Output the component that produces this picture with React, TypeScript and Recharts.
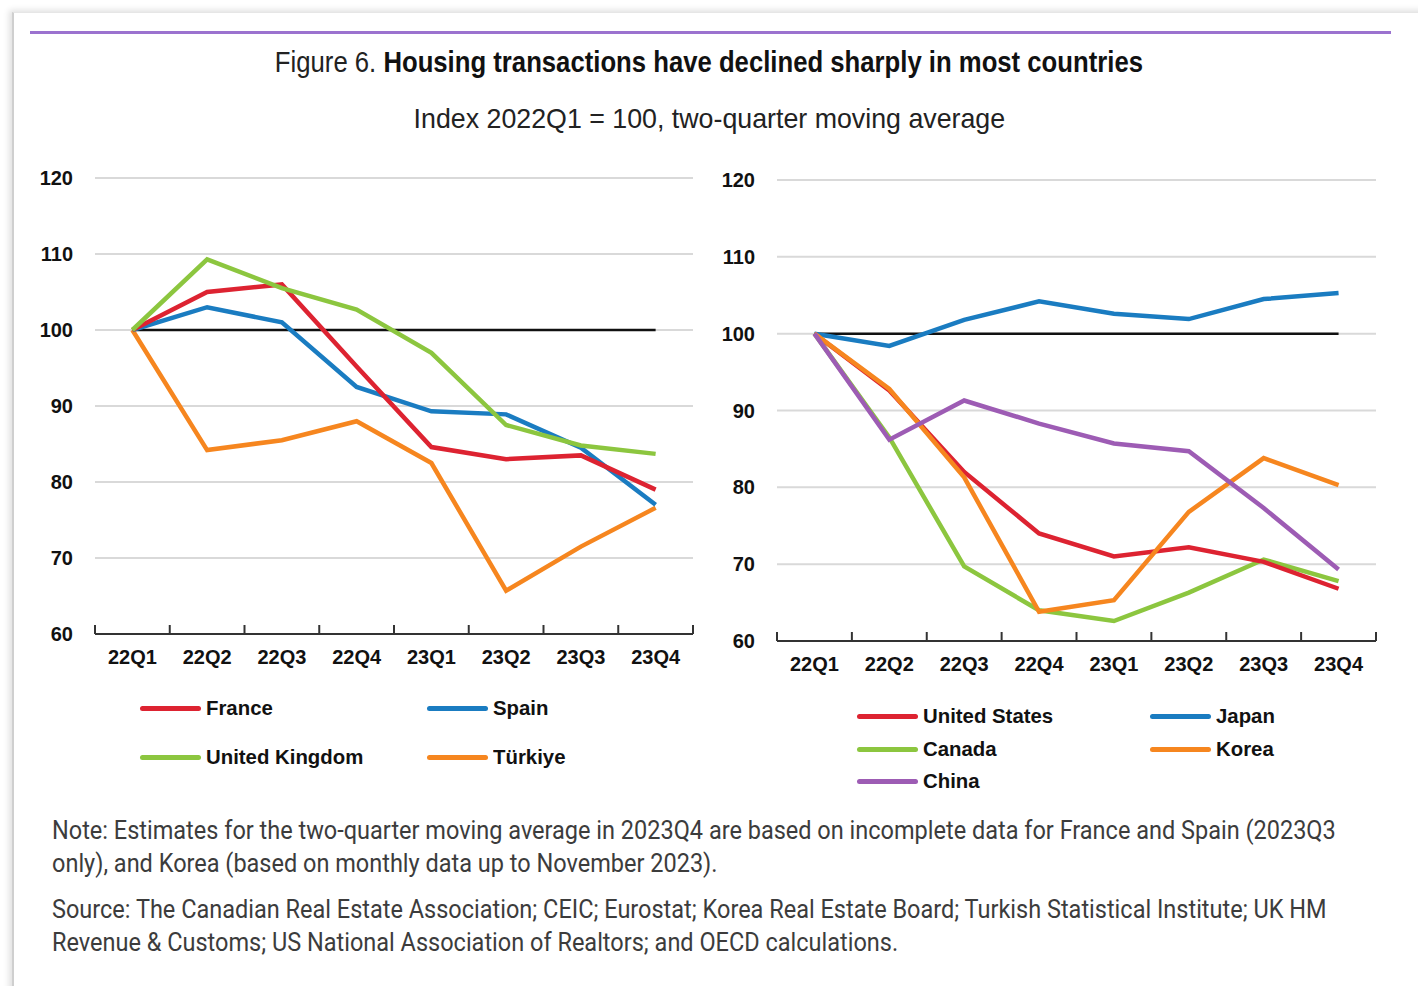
import React from 'react';
import { LineChart, Line, XAxis, YAxis, CartesianGrid } from 'recharts';

const QUARTERS = ['22Q1', '22Q2', '22Q3', '22Q4', '23Q1', '23Q2', '23Q3', '23Q4'];
const Y_TICKS = [60, 70, 80, 90, 100, 110, 120];
const BASELINE = [100, 100, 100, 100, 100, 100, 100, 100];

// Left panel
const FRANCE = [100, 105, 106, 95.2, 84.6, 83, 83.5, 79];
const SPAIN = [100, 103, 101, 92.5, 89.3, 88.9, 84.5, 77];
const UNITED_KINGDOM = [100, 109.3, 105.5, 102.7, 97, 87.5, 84.8, 83.7];
const TURKIYE = [100, 84.2, 85.5, 88, 82.5, 65.7, 71.5, 76.6];

// Right panel
const UNITED_STATES = [100, 92.6, 82, 74, 71, 72.2, 70.3, 66.8];
const JAPAN = [100, 98.4, 101.8, 104.2, 102.6, 101.9, 104.5, 105.3];
const CANADA = [100, 86.5, 69.7, 64, 62.6, 66.3, 70.6, 67.8];
const KOREA = [100, 92.8, 81.3, 63.8, 65.3, 76.8, 83.8, 80.3];
const CHINA = [100, 86.2, 91.3, 88.3, 85.7, 84.7, 77.3, 69.3];

const C_RED = '#dd2331';
const C_BLUE = '#1a7cc1';
const C_GREEN = '#8cc63f';
const C_ORANGE = '#f6861f';
const C_PURPLE = '#9d5cb4';

const leftData = QUARTERS.map((q, i) => ({
  q,
  base: BASELINE[i],
  France: FRANCE[i],
  Spain: SPAIN[i],
  'United Kingdom': UNITED_KINGDOM[i],
  'Türkiye': TURKIYE[i],
}));

const rightData = QUARTERS.map((q, i) => ({
  q,
  base: BASELINE[i],
  'United States': UNITED_STATES[i],
  Japan: JAPAN[i],
  Canada: CANADA[i],
  Korea: KOREA[i],
  China: CHINA[i],
}));

const leftSeries = [
  { key: 'Türkiye', color: C_ORANGE },
  { key: 'Spain', color: C_BLUE },
  { key: 'France', color: C_RED },
  { key: 'United Kingdom', color: C_GREEN },
];
const rightSeries = [
  { key: 'Japan', color: C_BLUE },
  { key: 'Canada', color: C_GREEN },
  { key: 'United States', color: C_RED },
  { key: 'Korea', color: C_ORANGE },
  { key: 'China', color: C_PURPLE },
];

const AXIS_FONT = "'Liberation Sans', Arial, sans-serif";
const tickStyle = { fontFamily: AXIS_FONT, fontWeight: 700, fontSize: 20, fill: '#111' };
const TICK_GAP = 16;
const TICK_MARK = 9;

function CatTick(props: any) {
  const { x, y, payload, index, visibleTicksCount, width } = props;
  const half =
    typeof payload?.offset === 'number' && payload.offset > 0
      ? payload.offset
      : width / visibleTicksCount / 2;
  const axisY = y - TICK_GAP;
  const isLast = index === visibleTicksCount - 1;
  return (
    <g>
      <line x1={x - half} x2={x - half} y1={axisY} y2={axisY - TICK_MARK} stroke="#333" strokeWidth={2} />
      {isLast && <line x1={x + half} x2={x + half} y1={axisY} y2={axisY - TICK_MARK} stroke="#333" strokeWidth={2} />}
      <text x={x} y={y} dy="0.71em" textAnchor="middle" {...tickStyle}>
        {payload.value}
      </text>
    </g>
  );
}

function Panel({ data, series, width, height, margin }: any) {
  return (
    <LineChart width={width} height={height} data={data} margin={margin}>
      <CartesianGrid vertical={false} stroke="#d9d9d9" strokeWidth={2} />
      <XAxis
        dataKey="q"
        type="category"
        scale="band"
        axisLine={{ stroke: '#333', strokeWidth: 2 }}
        tickLine={false}
        tickSize={0}
        tickMargin={TICK_GAP}
        height={40}
        interval={0}
        tick={CatTick}
      />
      <YAxis
        domain={[60, 120]}
        ticks={Y_TICKS}
        width={60}
        axisLine={false}
        tickLine={false}
        tickSize={12}
        tickMargin={10}
        tick={tickStyle}
        interval={0}
      />
      <Line dataKey="base" stroke="#111" strokeWidth={2.5} dot={false} isAnimationActive={false} />
      {series.map((s: any) => (
        <Line
          key={s.key}
          dataKey={s.key}
          stroke={s.color}
          strokeWidth={4.5}
          dot={false}
          strokeLinejoin="miter"
          isAnimationActive={false}
        />
      ))}
    </LineChart>
  );
}

function LegendItem({ x, y, color, label }: any) {
  return (
    <div style={{ position: 'absolute', left: x, top: y - 14, height: 28, display: 'flex', alignItems: 'center' }}>
      <div style={{ width: 61, height: 5, borderRadius: 3, background: color, marginRight: 5 }} />
      <span
        style={{
          fontFamily: AXIS_FONT,
          fontWeight: 700,
          fontSize: 21,
          color: '#111',
          whiteSpace: 'nowrap',
          display: 'inline-block',
          transform: 'scaleX(0.97)',
          transformOrigin: 'left center',
        }}
      >
        {label}
      </span>
    </div>
  );
}

const noteStyle: React.CSSProperties = {
  position: 'absolute',
  left: 52,
  fontFamily: "Roboto, 'Noto Sans', sans-serif",
  fontSize: 25,
  color: '#3c3c3c',
  whiteSpace: 'nowrap',
  lineHeight: '33px',
  transform: 'scaleX(0.94)',
  transformOrigin: 'left top',
};

const centered: React.CSSProperties = {
  position: 'absolute',
  left: 0,
  width: 1418,
  display: 'flex',
  justifyContent: 'center',
  whiteSpace: 'nowrap',
  fontFamily: AXIS_FONT,
  color: '#222',
};

export default function App() {
  return (
    <div style={{ position: 'absolute', left: 0, top: 0, width: 1418, height: 986, background: '#fff', overflow: 'hidden' }}>
      <div
        style={{
          position: 'absolute',
          left: 12,
          top: 12,
          width: 1440,
          height: 1000,
          borderLeft: '2px solid #cfcfcf',
          borderTop: '1px solid #e6e6e6',
          boxShadow: '-3px -2px 6px rgba(0,0,0,0.12)',
        }}
      />
      <div style={{ position: 'absolute', left: 30, top: 31, width: 1361, height: 3, background: '#9b72cf' }} />
      <div style={{ ...centered, top: 46 }}>
        <div style={{ fontSize: 29, transform: 'scaleX(0.886)', transformOrigin: 'center' }}>
          <span>Figure 6. </span>
          <span style={{ fontWeight: 700, color: '#111' }}>Housing transactions have declined sharply in most countries</span>
        </div>
      </div>
      <div style={{ ...centered, top: 103 }}>
        <div style={{ fontSize: 28, transform: 'scaleX(0.956)', transformOrigin: 'center' }}>
          Index 2022Q1 = 100, two-quarter moving average
        </div>
      </div>

      <div style={{ position: 'absolute', left: 0, top: 150 }}>
        <Panel data={leftData} series={leftSeries} width={720} height={540} margin={{ top: 28, right: 27, bottom: 16, left: 35 }} />
      </div>
      <div style={{ position: 'absolute', left: 700, top: 150 }}>
        <Panel data={rightData} series={rightSeries} width={720} height={550} margin={{ top: 30, right: 44, bottom: 19, left: 17 }} />
      </div>

      <LegendItem x={140} y={708} color={C_RED} label="France" />
      <LegendItem x={427} y={708} color={C_BLUE} label="Spain" />
      <LegendItem x={140} y={757} color={C_GREEN} label="United Kingdom" />
      <LegendItem x={427} y={757} color={C_ORANGE} label="Türkiye" />

      <LegendItem x={857} y={716} color={C_RED} label="United States" />
      <LegendItem x={1150} y={716} color={C_BLUE} label="Japan" />
      <LegendItem x={857} y={749} color={C_GREEN} label="Canada" />
      <LegendItem x={1150} y={749} color={C_ORANGE} label="Korea" />
      <LegendItem x={857} y={781} color={C_PURPLE} label="China" />

      <div style={{ ...noteStyle, top: 814 }}>
        Note: Estimates for the two-quarter moving average in 2023Q4 are based on incomplete data for France and Spain (2023Q3
        <br />
        only), and Korea (based on monthly data up to November 2023).
      </div>
      <div style={{ ...noteStyle, top: 893 }}>
        Source: The Canadian Real Estate Association; CEIC; Eurostat; Korea Real Estate Board; Turkish Statistical Institute; UK HM
        <br />
        Revenue &amp; Customs; US National Association of Realtors; and OECD calculations.
      </div>
    </div>
  );
}
